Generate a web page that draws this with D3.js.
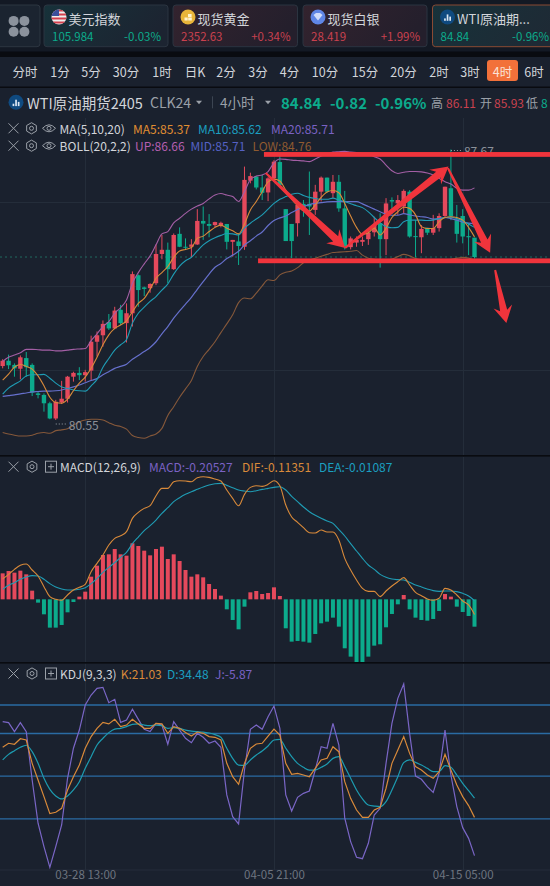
<!DOCTYPE html>
<html>
<head>
<meta charset="utf-8">
<script src="https://cdn.jsdelivr.net/npm/d3@7/dist/d3.min.js"></script>
<style>
html,body{margin:0;padding:0;background:#0a0d12;overflow:hidden}
svg{display:block}
text{font-family:"Noto Sans CJK SC","Noto Sans",sans-serif}
</style>
</head>
<body>
<svg id="chart" width="550" height="886"></svg>
<script>
// WTI crude 4-hour candles, oldest first
const opens = [81.97,82.11,82.00,81.90,82.18,82.00,81.25,81.21,80.99,80.59,81.01,81.11,81.69,81.79,81.73,81.85,82.61,82.78,83.13,82.96,83.45,83.10,83.36,84.36,84.04,84.02,84.15,84.92,85.03,84.52,85.45,85.11,85.11,85.17,85.79,85.71,85.68,85.66,85.71,85.24,85.25,85.11,86.85,86.96,86.67,86.54,86.91,87.34,86.10,85.71,85.73,86.24,86.24,86.08,86.56,86.93,86.52,86.82,86.12,85.10,85.22,85.24,85.31,85.49,85.73,85.31,86.34,86.25,86.17,86.56,85.39,85.36,85.61,85.48,85.60,85.92,86.65,85.81,85.92,85.39,85.35];
const highs = [82.15,82.27,82.04,82.25,82.34,82.04,81.29,81.25,81.03,81.08,81.58,81.71,81.82,81.94,81.87,82.77,82.88,83.17,83.34,83.53,83.58,83.62,84.46,84.38,84.06,84.15,85.17,85.42,85.22,85.46,85.62,85.33,85.31,86.10,86.17,85.97,85.77,85.77,85.71,85.29,85.46,87.22,87.06,86.97,87.00,86.94,87.39,87.57,86.10,85.71,86.23,86.34,87.09,86.74,86.96,86.93,87.00,87.00,86.58,85.38,85.38,85.38,85.55,85.90,85.99,86.39,86.41,86.47,86.62,86.60,85.81,85.68,85.61,85.95,85.99,86.69,87.67,86.21,86.10,85.73,85.35];
const lows = [81.91,81.89,81.69,81.62,81.69,81.18,81.12,80.77,80.57,80.55,80.97,81.01,81.56,81.60,81.56,81.60,82.22,82.48,82.92,82.94,83.05,82.59,83.01,83.53,83.81,83.90,84.10,84.78,84.15,84.50,85.10,85.04,84.83,85.16,85.29,85.36,85.62,85.62,85.04,84.85,84.63,85.03,86.78,86.62,86.34,86.31,86.85,86.70,85.26,84.81,85.38,85.90,85.42,85.95,86.30,86.53,86.39,86.03,85.04,85.04,85.11,85.13,85.16,85.38,84.56,84.89,85.97,85.95,85.99,85.35,84.83,84.94,85.42,85.42,85.51,85.86,85.81,85.22,85.20,84.89,84.80];
const closes = [82.11,81.99,81.91,82.20,81.94,81.27,81.21,80.99,80.59,81.03,81.11,81.69,81.79,81.73,81.81,82.61,82.78,83.08,82.96,83.43,83.10,83.36,84.39,83.97,84.00,84.13,84.92,85.03,84.52,85.42,85.11,85.09,85.17,85.79,85.72,85.66,85.76,85.74,85.24,85.29,85.13,86.87,86.97,86.67,86.53,86.91,87.35,86.74,85.26,85.26,86.21,86.10,86.17,86.56,86.93,86.56,86.82,86.12,85.11,85.33,85.29,85.29,85.48,85.68,85.31,86.25,86.30,86.34,86.58,85.38,85.37,85.58,85.48,85.60,85.92,86.69,85.92,85.45,85.38,85.36,84.84];

// Moving averages and Bollinger bands on the price pane
const ma5 = [81.60,81.76,81.94,82.01,81.96,81.89,81.71,81.45,81.15,81.01,80.99,81.10,81.32,81.52,81.68,81.91,82.20,82.53,82.79,82.96,83.05,83.16,83.40,83.62,83.75,83.99,84.28,84.43,84.59,84.83,85.00,85.04,85.09,85.33,85.39,85.51,85.62,85.68,85.60,85.53,85.45,85.71,86.08,86.30,86.56,86.82,86.89,86.84,86.60,86.36,86.19,86.06,86.05,86.21,86.41,86.55,86.59,86.53,86.25,85.92,85.62,85.44,85.48,85.60,85.42,85.60,85.88,86.03,86.15,86.12,85.95,85.64,85.59,85.59,85.77,85.88,85.90,85.88,85.81,85.62,85.37];
const ma10 = [81.23,81.39,81.49,81.58,81.71,81.74,81.74,81.75,81.65,81.52,81.42,81.38,81.34,81.32,81.31,81.45,81.62,81.94,82.17,82.39,82.53,82.67,83.10,83.36,83.52,83.67,83.80,83.97,84.13,84.39,84.60,84.74,84.83,85.00,85.16,85.27,85.35,85.41,85.46,85.45,85.42,85.60,85.73,85.84,85.95,86.10,86.25,86.36,86.43,86.49,86.52,86.46,86.41,86.38,86.36,86.36,86.39,86.34,86.30,86.24,86.19,86.14,86.03,85.88,85.74,85.64,85.61,85.62,85.77,85.81,85.81,85.81,85.80,85.81,85.85,85.88,85.89,85.85,85.79,85.71,85.62];
const ma20 = [81.17,81.19,81.21,81.24,81.26,81.29,81.30,81.31,81.31,81.32,81.34,81.38,81.42,81.47,81.53,81.59,81.64,81.74,81.82,81.91,81.96,82.02,82.15,82.25,82.35,82.46,82.61,82.82,83.01,83.23,83.42,83.60,83.78,83.99,84.19,84.39,84.57,84.67,84.80,84.89,84.99,85.16,85.27,85.39,85.50,85.67,85.80,85.87,85.92,86.01,86.09,86.17,86.22,86.25,86.27,86.29,86.30,86.30,86.30,86.30,86.30,86.24,86.17,86.10,86.03,85.97,85.94,85.94,85.98,85.95,85.92,85.90,85.88,85.84,85.85,85.88,85.85,85.81,85.76,85.73,85.71];
const bollUp = [82.09,82.20,82.26,82.32,82.41,82.41,82.40,82.39,82.39,82.37,82.37,82.39,82.41,82.42,82.43,82.64,82.82,83.01,83.14,83.36,83.51,83.71,84.15,84.43,84.66,84.87,85.16,85.45,85.51,85.74,85.86,85.99,86.10,86.18,86.25,86.37,86.47,86.51,86.47,86.43,86.30,86.56,86.88,86.97,87.00,87.09,87.32,87.42,87.41,87.39,87.38,87.37,87.35,87.42,87.50,87.55,87.60,87.61,87.62,87.60,87.59,87.57,87.55,87.48,87.42,87.26,87.11,87.04,87.07,87.09,87.09,87.08,87.05,87.00,86.91,86.82,86.76,86.65,86.60,86.60,86.66];
const bollLow = [80.22,80.18,80.15,80.13,80.13,80.15,80.20,80.22,80.20,80.27,80.29,80.32,80.41,80.50,80.55,80.57,80.57,80.55,80.48,80.41,80.38,80.31,80.14,80.09,80.07,80.13,80.18,80.33,80.67,80.90,81.15,81.37,81.59,81.96,82.22,82.41,82.61,82.85,83.08,83.32,83.64,83.76,83.74,83.89,84.08,84.24,84.22,84.37,84.44,84.47,84.56,84.69,84.76,84.81,84.86,84.91,84.96,84.97,84.98,84.99,85.01,84.89,84.81,84.78,84.76,84.76,84.79,84.85,84.91,84.87,84.80,84.76,84.74,84.74,84.74,84.76,84.78,84.81,84.83,84.81,84.76];

// MACD(12,26,9)
const macdHist = [0.195,0.2125,0.2,0.215,0.1875,0.065,-0.025,-0.1125,-0.2125,-0.2125,-0.1925,-0.0975,-0.02,0.02,0.0575,0.17,0.2525,0.3325,0.3375,0.3775,0.3375,0.3275,0.42,0.40,0.365,0.33,0.3775,0.395,0.3025,0.3375,0.2875,0.22,0.17,0.1875,0.165,0.115,0.0775,0.0275,-0.075,-0.155,-0.225,-0.055,0.0525,0.0625,0.04,0.0475,0.09,0.025,-0.2175,-0.3175,-0.3125,-0.3175,-0.325,-0.26,-0.18,-0.1675,-0.1375,-0.205,-0.3675,-0.43,-0.4725,-0.4725,-0.43,-0.3475,-0.3375,-0.21,-0.11,-0.0375,0.0325,-0.075,-0.1375,-0.155,-0.16,-0.1475,-0.0875,0.04,0.02,-0.055,-0.095,-0.125,-0.20527];
const dif = [0.1525,0.1875,0.225,0.255,0.265,0.22,0.175,0.095,0.02,0,-0.0075,0.0325,0.07,0.09,0.1125,0.2075,0.27,0.3325,0.4075,0.4575,0.4775,0.5075,0.6075,0.6525,0.6825,0.7025,0.7775,0.8325,0.8325,0.8825,0.89,0.8875,0.8825,0.9125,0.92,0.915,0.9025,0.8875,0.82,0.7575,0.7025,0.7875,0.84,0.8525,0.8475,0.8625,0.89,0.8525,0.7075,0.6175,0.5775,0.5375,0.5,0.4975,0.52,0.505,0.505,0.445,0.3075,0.22,0.145,0.0825,0.06,0.06,0.02,0.0625,0.1,0.1325,0.1625,0.1075,0.0525,0.0275,0.0025,-0.0075,0.0075,0.0825,0.07,0.0325,-0.0125,-0.0425,-0.11351];
const dea = [0.075,0.105,0.125,0.15,0.1675,0.1775,0.175,0.15,0.1175,0.0925,0.0775,0.07,0.07,0.075,0.0875,0.1175,0.1575,0.2025,0.24,0.275,0.315,0.3525,0.4175,0.4675,0.515,0.5525,0.595,0.645,0.6875,0.7325,0.7625,0.7875,0.8075,0.825,0.8425,0.8575,0.8675,0.87,0.855,0.8375,0.82,0.8125,0.8075,0.815,0.825,0.8325,0.84,0.845,0.82,0.7725,0.7325,0.6925,0.6575,0.63,0.6075,0.5875,0.57,0.5225,0.475,0.4175,0.3625,0.3075,0.2575,0.225,0.1875,0.165,0.1525,0.1475,0.145,0.1275,0.1075,0.0925,0.0775,0.065,0.06,0.0625,0.0625,0.0575,0.045,0.025,-0.01087];

// KDJ(9,3,3)
const kLine = [70.3,73.1,72.4,76.3,75.4,59,47.3,35.6,23.7,24.6,27.4,40.3,49.6,57.8,69.6,77.8,83.6,87.8,86.7,89.9,84.8,85.9,89.9,86.7,83.6,83.6,87.1,86.7,80.1,84.8,83.6,80.6,78.2,81,80.1,77.8,77.3,75.4,59,49.6,44.3,59,69.6,72.6,73.1,78.2,83.1,78.9,59,51.3,52,50.8,49.6,55.5,61.4,62.5,70.7,67.2,46.1,34.4,26.2,21.1,21.1,26.2,28.1,41.5,59,68.4,77.8,66,56.7,54.3,50.8,48.5,53.2,65.3,54.3,43.8,35.6,29.3,21.03];
const dLine = [61.4,65.3,67.9,70.3,71.7,67.2,59,48.5,40.7,36.1,34,36.1,40.3,46.1,55.5,63.7,71.9,76.6,80.6,83.1,83.6,84.8,86.4,86.7,85.9,85.5,85.9,85.5,83.6,84.1,83.6,82.4,81.7,81.3,81,80.3,79.2,77.3,69.6,62.5,57.8,57.6,61.4,64.9,67.7,71.2,75.4,75.9,69.6,63.7,59,56.2,54.3,54.3,56.2,58.5,62.5,63.7,56.7,48.5,40.3,34,29.7,29,28.6,32.1,40.3,49.6,59.5,61.4,59.7,57.8,55.5,53.2,53.2,57.4,56.2,50.8,45,39.8,34.48];
const jLine = [88.3,87.6,81.3,87.6,81.3,47.3,16.9,0.5,-14.1,0.5,15.7,48.5,69.6,82.4,100,107,111.7,112.4,101.6,104,87.8,89.5,97,89.9,82.9,81.3,87.1,85.9,72.4,88.3,82.4,76.6,73.5,80.1,77.3,73.1,74.7,70.3,36.8,21.5,16.4,54.3,82.9,85.9,82.9,91.8,99.3,83.6,36.8,25.5,35.1,37.9,39.6,54.3,70.7,69.6,87.1,71.9,20.4,4,-7,-8,2.8,22.7,27.4,59,87.1,104.7,114.8,80.1,50.1,47.8,42.6,38.6,52,82.4,50.8,28.6,13.8,6.3,-5.87];
const kdjLevels = [100,80,50,20];

// Axis ticks and grid
const timeTickIdx = [14,46,78];
const timeTickLabels = ["03-28 13:00","04-05 21:00","04-15 05:00"];
const priceGrid = [86.30,84.08,81.87];

// Watchlist strip
const cardNames = ["美元指数","现货黄金","现货白银","WTI原油期..."];
const cardValues = ["105.984","2352.63","28.419","84.84"];
const cardChanges = ["-0.03%","+0.34%","+1.99%","-0.96%"];
const periods = ["分时","1分","5分","30分","1时","日K","2分","3分","4分","10分","15分","20分","2时","3时","4时","6时"];

// Support and resistance marks, given as candle index and price
const levelBars = [{from:44.3,to:94,price:87.54},{from:43.3,to:94,price:84.74}];
const arrows = [
  {i0:44.6,p0:87.05,i1:58.07,p1:85.08},
  {i0:58.07,p0:85.08,i1:75.6,p1:87.22},
  {i0:75.5,p0:87.18,i1:82.65,p1:84.95},
  {i0:83.5,p0:84.5,i1:85.4,p1:83.1}
];

const C = {bg:"#1a212e",black:"#090b10",grid:"#242d3a",up:"#e5495c",down:"#0cab8c",
  orange:"#d98a3a",cyan:"#1f9cb4",ma20:"#6670cc",bollUp:"#a35fa5",bollLow:"#85583a",
  level:"#2a6ba3",gray:"#9aa0a8",light:"#d2d5da",red:"#f0343c",dim:"#6e7580"};

const svg = d3.select("#chart");
const defs = svg.append("defs");
function cardFill(id,a,b){
  const g=defs.append("linearGradient").attr("id",id).attr("x1",0).attr("y1",0).attr("x2",1).attr("y2",0.3);
  g.append("stop").attr("offset",0).attr("stop-color",a);
  g.append("stop").attr("offset",1).attr("stop-color",b);
}
cardFill("cardG","#17323a","#1c2431");
cardFill("cardR","#33232e","#241f2c");
cardFill("cardT","#17323a","#1e2a35");

svg.append("rect").attr("width",550).attr("height",886).attr("fill",C.bg);

function label(g,x,y,str,fill,size,opts={}){
  return g.append("text").attr("x",x).attr("y",y).text(str).attr("fill",fill)
    .attr("font-size",size).attr("font-weight",opts.weight||400)
    .attr("text-anchor",opts.anchor||"start").attr("dominant-baseline","central");
}

// ---- Watchlist strip ----
const strip = svg.append("g");
strip.append("rect").attr("width",550).attr("height",52).attr("fill","#131924");
strip.append("rect").attr("x",-6).attr("y",5).attr("width",46).attr("height",41.7).attr("rx",3)
  .attr("fill","#1b2430").attr("stroke","#2d3641");
// menu clover
[[-1,-1],[1,-1],[-1,1],[1,1]].forEach(([a,b])=>{
  strip.append("rect").attr("x",19+a*5.4-5).attr("y",26.3+b*5.4-5).attr("width",10).attr("height",10)
    .attr("rx",5).attr("fill","#8b929c");
});
const cardX = [[44,168],[173,297.5],[303,427],[432.5,560]];
const cardFillId = ["cardG","cardR","cardR","cardT"];
const cardColor = [C.down,"#c9414f","#c9414f",C.down];
cardNames.forEach((name,i)=>{
  const [x0,x1]=cardX[i];
  strip.append("rect").attr("x",x0).attr("y",5).attr("width",x1-x0).attr("height",41.7).attr("rx",3)
    .attr("fill",`url(#${cardFillId[i]})`).attr("stroke",i===3?"#8a4a33":"#2b3440");
  label(strip,x0+24.5,18,name,C.light,13);
  label(strip,x0+8,36,cardValues[i],cardColor[i],11.5);
  label(strip,Math.min(x1-7,549),36,cardChanges[i],cardColor[i],11.5,{anchor:"end"});
  const cx=x0+15,cy=17;
  if(i===0){
    const clipId="flagClip";
    defs.append("clipPath").attr("id",clipId).append("circle").attr("cx",cx).attr("cy",cy).attr("r",7.5);
    const f=strip.append("g").attr("clip-path",`url(#${clipId})`);
    f.append("rect").attr("x",cx-8).attr("y",cy-8).attr("width",16).attr("height",16).attr("fill","#eee");
    d3.range(0,4).forEach(k=>f.append("rect").attr("x",cx-8).attr("y",cy-7.5+k*4).attr("width",16).attr("height",2).attr("fill","#d43f4c"));
    f.append("rect").attr("x",cx-8).attr("y",cy-8).attr("width",8).attr("height",7).attr("fill","#3c4f9a");
  } else if(i===1){
    strip.append("circle").attr("cx",cx).attr("cy",cy).attr("r",7.5).attr("fill","#e9b53a");
    [[-3.5,0.5],[0,-3],[0,0.5]].forEach(([dx,dy],k)=>strip.append("rect").attr("x",cx+dx-(k===2?-0.2:0)).attr("y",cy+dy).attr("width",k===0?3.2:3.6).attr("height",3).attr("fill","#fff3cf"));
  } else if(i===2){
    strip.append("circle").attr("cx",cx).attr("cy",cy).attr("r",7.5).attr("fill","#5f86e6");
    strip.append("path").attr("d",`M${cx-4.5},${cy-2} L${cx-2},${cy-4} L${cx+2},${cy-4} L${cx+4.5},${cy-2} L${cx},${cy+3.5}Z`).attr("fill","#cfdcfb");
  } else {
    wtiBadge(strip,cx,cy,7.5);
  }
});
function wtiBadge(g,cx,cy,r){
  g.append("circle").attr("cx",cx).attr("cy",cy).attr("r",r).attr("fill","#0f4a80");
  [[-3.4,1.4,2.4],[-0.8,-2.6,6.4],[1.8,-0.4,4.2]].forEach(([dx,dy,h])=>
    g.append("rect").attr("x",cx+dx).attr("y",cy+dy).attr("width",1.7).attr("height",h).attr("fill","#dbe7f3"));
}

// ---- Period bar ----
const bandBlack = svg.append("g");
bandBlack.append("rect").attr("y",51.5).attr("width",550).attr("height",5.5).attr("fill",C.black);
bandBlack.append("rect").attr("y",86.5).attr("width",550).attr("height",1.5).attr("fill",C.black);
const periodX = [25,60,91,126,162,195,226,258,289.5,325,365,403.5,439,470,502.5,534];
const periodG = svg.append("g");
periodG.append("rect").attr("x",487).attr("y",60).attr("width",31).attr("height",21).attr("rx",3).attr("fill","#f2713a");
periods.forEach((p,i)=>label(periodG,periodX[i],71.7,p,i===14?"#fbe3d6":C.light,12.5,{anchor:"middle"}));

// ---- Instrument header ----
const head = svg.append("g");
const headY = 102.3;
wtiBadge(head,16,headY,7.5);
label(head,27,headY,"WTI原油期货2405",C.light,14.5);
label(head,150,headY,"CLK24",C.gray,14);
head.append("path").attr("d",`M196,${headY-1.5}h6l-3,3.5z`).attr("fill",C.gray);
head.append("rect").attr("x",212).attr("y",headY-6).attr("width",1).attr("height",12).attr("fill","#3c4552");
label(head,220,headY,"4小时",C.gray,13.5);
head.append("path").attr("d",`M265,${headY-1.5}h6l-3,3.5z`).attr("fill",C.gray);
label(head,281,headY,"84.84",C.down,15,{weight:700});
label(head,330,headY,"-0.82",C.down,15,{weight:700});
label(head,375,headY,"-0.96%",C.down,15,{weight:700});
label(head,431,headY,"高",C.gray,12);
label(head,446,headY,"86.11","#c9414f",12);
label(head,480,headY,"开",C.gray,12);
label(head,494,headY,"85.93","#c9414f",12);
label(head,526,headY,"低",C.gray,12);
label(head,541,headY,"8",C.down,12);

// ---- Scales ----
const x = d3.scaleLinear().domain([0,80]).range([2.67,474.5]);
const priceY = d3.scaleLinear().domain([80.55,87.67]).range([420,149.5]);
const macdY = d3.scaleLinear().domain([-0.4725,0.92]).range([662.3,476.7]);
const kdjY = d3.scaleLinear().domain([0,100]).range([847.3,705]);
const idx = d3.range(opens.length);
const panels = {price:[118,455],macd:[457,662],kdj:[663.5,870]};

// Vertical and horizontal grid
const grid = svg.append("g").attr("stroke",C.grid).attr("stroke-width",1);
Object.values(panels).forEach(([y0,y1])=>{
  grid.selectAll(null).data(timeTickIdx).join("line")
    .attr("x1",d=>Math.round(x(d))+0.5).attr("x2",d=>Math.round(x(d))+0.5).attr("y1",y0).attr("y2",y1);
});
grid.selectAll(null).data(priceGrid).join("line")
  .attr("x1",0).attr("x2",550).attr("y1",d=>Math.round(priceY(d))+0.5).attr("y2",d=>Math.round(priceY(d))+0.5);

// Last-price dotted line
const lastClose = closes[closes.length-1];
svg.append("line").attr("x1",0).attr("x2",550)
  .attr("y1",priceY(lastClose)).attr("y2",priceY(lastClose))
  .attr("stroke","#1f6a60").attr("stroke-width",1).attr("stroke-dasharray","2,3");

const clipP = (id,[y0,y1])=>defs.append("clipPath").attr("id",id).append("rect").attr("x",0).attr("y",y0).attr("width",550).attr("height",y1-y0);
clipP("pPrice",panels.price); clipP("pMacd",panels.macd); clipP("pKdj",panels.kdj);

// ---- Candles ----
const price = svg.append("g").attr("clip-path","url(#pPrice)");
const isUp = i=>closes[i]>=opens[i];
price.selectAll(".wick").data(idx).join("line").attr("class","wick")
  .attr("x1",i=>x(i)).attr("x2",i=>x(i))
  .attr("y1",i=>priceY(highs[i])).attr("y2",i=>priceY(lows[i]))
  .attr("stroke",i=>isUp(i)?C.up:C.down).attr("stroke-width",1);
price.selectAll(".body").data(idx).join("rect").attr("class","body")
  .attr("x",i=>x(i)-2.2).attr("width",4.4)
  .attr("y",i=>priceY(Math.max(opens[i],closes[i])))
  .attr("height",i=>Math.max(1,Math.abs(priceY(opens[i])-priceY(closes[i]))))
  .attr("fill",i=>isUp(i)?C.up:C.down);

function series(g,y,vals,color,width=1.1,curve=d3.curveMonotoneX){
  const line=d3.line().x((d,i)=>x(i)).y(d=>y(d)).curve(curve);
  g.append("path").attr("d",line(vals)).attr("fill","none").attr("stroke",color).attr("stroke-width",width);
}
series(price,priceY,bollUp,C.bollUp,1.1);
series(price,priceY,bollLow,C.bollLow,1.1);
series(price,priceY,ma20,C.ma20,1.2);
series(price,priceY,ma10,C.cyan,1.1);
series(price,priceY,ma5,C.orange,1.1);

// Extremes
const hiI = d3.maxIndex(highs), loI = d3.minIndex(lows);
function extreme(i,v,dy){
  const xp=x(i), yp=priceY(v)+dy;
  price.append("line").attr("x1",xp).attr("x2",xp+10).attr("y1",yp).attr("y2",yp)
    .attr("stroke",C.gray).attr("stroke-dasharray","1,2");
  label(price,xp+13,yp,v.toFixed(2),"#8b919a",12);
}
extreme(hiI,highs[hiI],1);
extreme(loI,lows[loI],4);

// ---- Hand-drawn channel and trend arrows ----
const marks = svg.append("g").attr("fill",C.red);
marks.selectAll(null).data(levelBars).join("rect")
  .attr("x",d=>x(d.from)).attr("width",d=>x(d.to)-x(d.from))
  .attr("y",d=>priceY(d.price)-2.4).attr("height",4.8);
marks.selectAll(null).data(arrows).join("path").attr("d",a=>{
  const x0=x(a.i0),y0=priceY(a.p0),x1=x(a.i1),y1=priceY(a.p1);
  const L=Math.hypot(x1-x0,y1-y0),ux=(x1-x0)/L,uy=(y1-y0)/L,nx=-uy,ny=ux;
  const at=(d,w)=>[x1-ux*d+nx*w,y1-uy*d+ny*w];
  const pts=[[x0+nx,y0+ny],at(13,3.6),at(17,9.5),[x1,y1],at(17,-9.5),at(13,-3.6),[x0-nx,y0-ny]];
  return "M"+pts.map(p=>p.join(",")).join("L")+"Z";
});

// ---- MACD pane ----
const macd = svg.append("g").attr("clip-path","url(#pMacd)");
macd.selectAll("rect").data(idx).join("rect")
  .attr("x",i=>x(i)-2).attr("width",4)
  .attr("y",i=>Math.min(macdY(0),macdY(macdHist[i])))
  .attr("height",i=>Math.abs(macdY(macdHist[i])-macdY(0)))
  .attr("fill",i=>macdHist[i]>=0?C.up:C.down);
series(macd,macdY,dea,C.cyan,1.1);
series(macd,macdY,dif,C.orange,1.1);

// ---- KDJ pane ----
const kdj = svg.append("g").attr("clip-path","url(#pKdj)");
kdj.selectAll("line").data(kdjLevels).join("line")
  .attr("x1",0).attr("x2",550).attr("y1",d=>kdjY(d)).attr("y2",d=>kdjY(d))
  .attr("stroke",C.level).attr("stroke-width",1.4);
series(kdj,kdjY,jLine,"#7a66c6",1.2,d3.curveLinear);
series(kdj,kdjY,dLine,"#1d9bb0",1.2,d3.curveMonotoneX);
series(kdj,kdjY,kLine,C.orange,1.2,d3.curveLinear);

// Pane dividers
svg.append("rect").attr("y",455).attr("width",550).attr("height",1.6).attr("fill",C.black);
svg.append("rect").attr("y",662).attr("width",550).attr("height",1.6).attr("fill",C.black);
svg.append("line").attr("x1",0).attr("x2",550).attr("y1",870).attr("y2",870).attr("stroke",C.grid);

// Time axis
const axis = d3.axisBottom(x).tickValues(timeTickIdx).tickSize(0)
  .tickFormat((d,i)=>timeTickLabels[i]);
const axG = svg.append("g").attr("transform","translate(0,867)").call(axis);
axG.select(".domain").remove();
axG.selectAll("text").attr("fill",C.dim).attr("font-size",11.5).attr("dy","0.75em");

// ---- Indicator legends ----
function closeIcon(g,cx,cy){
  g.append("path").attr("d",`M${cx-5},${cy-5}L${cx+5},${cy+5}M${cx+5},${cy-5}L${cx-5},${cy+5}`)
    .attr("stroke",C.gray).attr("stroke-width",1).attr("fill","none");
}
function hexIcon(g,cx,cy){
  const pts=d3.range(6).map(k=>{const a=Math.PI/3*k+Math.PI/6;return [cx+5.6*Math.cos(a),cy+5.6*Math.sin(a)].join(",")}).join(" ");
  g.append("polygon").attr("points",pts).attr("fill","none").attr("stroke",C.gray);
  g.append("circle").attr("cx",cx).attr("cy",cy).attr("r",2).attr("fill","none").attr("stroke",C.gray);
}
function eyeIcon(g,cx,cy){
  g.append("path").attr("d",`M${cx-6.5},${cy}Q${cx},${cy-7} ${cx+6.5},${cy}Q${cx},${cy+7} ${cx-6.5},${cy}Z`).attr("fill","none").attr("stroke",C.gray);
  g.append("circle").attr("cx",cx).attr("cy",cy).attr("r",2).attr("fill","none").attr("stroke",C.gray);
}
function plusIcon(g,cx,cy){
  g.append("rect").attr("x",cx-5.5).attr("y",cy-5.5).attr("width",11).attr("height",11).attr("fill","none").attr("stroke",C.gray);
  g.append("path").attr("d",`M${cx-3},${cy}H${cx+3}M${cx},${cy-3}V${cy+3}`).attr("stroke",C.gray).attr("fill","none");
}
const leg = svg.append("g");
closeIcon(leg,13.5,128.3); hexIcon(leg,31.5,128.3); eyeIcon(leg,49,128.3);
label(leg,59.6,128.3,"MA(5,10,20)",C.light,12);
label(leg,133,128.3,"MA5:85.37","#e08e32",12);
label(leg,198,128.3,"MA10:85.62","#1b9fc0",12);
label(leg,271,128.3,"MA20:85.71","#7a62c4",12);
closeIcon(leg,13.5,145.7); hexIcon(leg,31.5,145.7); eyeIcon(leg,49,145.7);
label(leg,59.6,145.7,"BOLL(20,2,2)",C.light,12);
label(leg,135,145.7,"UP:86.66","#b55fb0",12);
label(leg,190.5,145.7,"MID:85.71","#5561c4",12);
label(leg,252.6,145.7,"LOW:84.76","#8f5a30",12);

closeIcon(leg,13.5,466.7); hexIcon(leg,32,466.7); plusIcon(leg,51,466.7);
label(leg,60,466.7,"MACD(12,26,9)",C.light,12);
label(leg,149,466.7,"MACD:-0.20527","#7a62c4",12);
label(leg,242,466.7,"DIF:-0.11351","#d98a3a",12);
label(leg,319,466.7,"DEA:-0.01087","#1b9fc0",12);

closeIcon(leg,13.5,673.5); hexIcon(leg,32,673.5); plusIcon(leg,51,673.5);
label(leg,60,673.5,"KDJ(9,3,3)",C.light,12);
label(leg,120.7,673.5,"K:21.03","#d98a3a",12);
label(leg,167,673.5,"D:34.48","#1b9fc0",12);
label(leg,215,673.5,"J:-5.87","#7a62c4",12);
</script>
</body>
</html>
